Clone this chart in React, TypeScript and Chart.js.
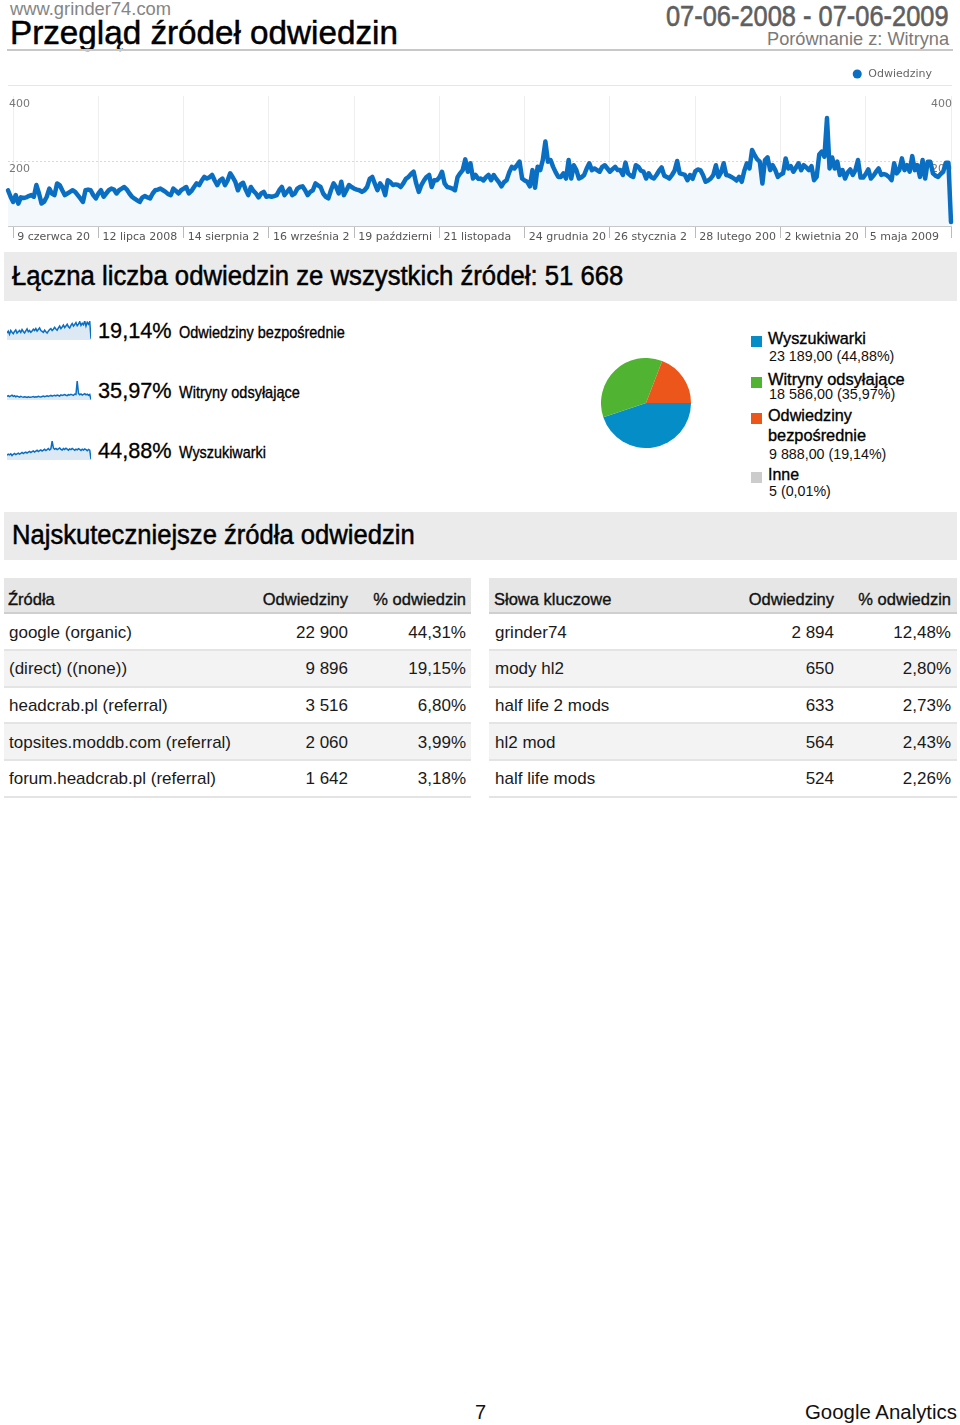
import React, { useEffect, useLayoutEffect, useRef, useState } from 'react';
import { Chart, registerables } from 'chart.js';

Chart.register(...registerables);

// ---------------- DATA ----------------
const VISITS = [
  110, 90, 74, 95, 69, 88, 86, 88, 92, 95,
  90, 126, 100, 69, 75, 90, 115, 100, 95, 131,
  126, 110, 95, 100, 105, 110, 105, 95, 85, 74,
  110, 112, 110, 95, 85, 100, 110, 90, 100, 110,
  115, 112, 100, 110, 115, 120, 112, 100, 90, 84,
  79, 74, 88, 92, 88, 85, 100, 110, 112, 115,
  110, 105, 98, 95, 115, 108, 100, 110, 115, 120,
  100, 108, 120, 131, 126, 140, 151, 146, 150, 157,
  140, 126, 140, 146, 126, 140, 162, 150, 136, 110,
  128, 133, 112, 95, 120, 108, 100, 88, 100, 105,
  90, 92, 90, 92, 95, 110, 120, 95, 105, 115,
  95, 100, 115, 120, 122, 110, 95, 105, 110, 131,
  125, 120, 100, 90, 85, 110, 131, 120, 100, 136,
  95, 110, 126, 120, 115, 112, 110, 105, 110, 120,
  145, 151, 130, 110, 131, 120, 95, 141, 135, 126,
  128, 126, 120, 131, 145, 151, 160, 167, 131, 105,
  126, 140, 151, 157, 120, 141, 141, 150, 167, 131,
  120, 118, 115, 110, 150, 162, 172, 205, 167, 193,
  146, 157, 145, 146, 140, 150, 157, 141, 157, 145,
  135, 122, 135, 141, 165, 182, 177, 187, 198, 146,
  140, 136, 122, 172, 118, 182, 172, 203, 260, 198,
  203, 182, 165, 151, 151, 162, 146, 203, 146, 187,
  172, 146, 150, 157, 177, 193, 172, 177, 172, 167,
  182, 187, 177, 167, 175, 182, 172, 172, 157, 195,
  162, 155, 151, 187, 182, 170, 167, 146, 162, 150,
  146, 157, 170, 180, 155, 151, 146, 157, 170, 200,
  162, 160, 157, 141, 157, 145, 168, 174, 172, 157,
  136, 140, 146, 157, 187, 151, 165, 193, 157, 155,
  151, 146, 140, 151, 136, 170, 193, 177, 234, 218,
  205, 198, 131, 203, 211, 172, 187, 172, 151, 158,
  162, 208, 177, 184, 167, 180, 193, 172, 187, 180,
  172, 184, 141, 151, 220, 229, 213, 332, 177, 211,
  177, 198, 157, 172, 146, 165, 174, 157, 172, 203,
  149, 149, 160, 174, 146, 155, 167, 177, 157, 160,
  157, 151, 141, 193, 162, 172, 208, 172, 187, 167,
  215, 172, 187, 151, 203, 146, 198, 198, 162, 155,
  151, 160, 167, 195, 195, 12,
];
const TICK_DAYS = [2, 35, 68, 101, 134, 167, 200, 233, 266, 299, 332, 365];
const TICK_LABELS = [
  '9 czerwca 20', '12 lipca 2008', '14 sierpnia 2', '16 września 2', '19 październi',
  '21 listopada', '24 grudnia 20', '26 stycznia 2', '28 lutego 200', '2 kwietnia 20',
  '5 maja 2009', '',
];
const Y_MAX = 400;
const Y_STEP = 200;
const SERIES_NAME = 'Odwiedziny';

const SPARK_DIRECT = [22, 28, 18, 30, 24, 20, 27, 32, 22, 26, 30, 24, 33, 27, 22, 29, 35, 26, 30, 24, 28, 34, 30, 36, 28, 33, 38, 30, 27, 24, 31, 26, 22, 28, 33, 36, 30, 34, 40, 35, 31, 38, 44, 36, 41, 47, 39, 44, 50, 42, 38, 46, 52, 44, 49, 55, 45, 50, 58, 46, 53, 48, 60, 44, 56, 50, 58, 4];
const SPARK_REFERRAL = [40, 46, 36, 44, 50, 38, 45, 34, 41, 36, 30, 38, 33, 29, 35, 31, 27, 34, 30, 28, 33, 36, 30, 35, 32, 38, 34, 31, 37, 42, 36, 40, 45, 38, 43, 48, 40, 46, 50, 44, 52, 47, 42, 55, 49, 53, 58, 50, 46, 56, 52, 60, 54, 48, 62, 58, 200, 70, 55, 64, 52, 60, 66, 54, 62, 50, 58, 5];
const SPARK_SEARCH = [28, 34, 30, 36, 26, 33, 38, 31, 36, 40, 34, 38, 44, 37, 42, 46, 40, 45, 50, 43, 48, 53, 46, 51, 56, 49, 54, 58, 52, 57, 62, 55, 60, 66, 58, 64, 110, 70, 62, 67, 60, 65, 70, 62, 58, 66, 61, 68, 63, 57, 64, 60, 67, 62, 56, 63, 59, 66, 61, 55, 62, 58, 64, 60, 54, 61, 57, 5];

const SHARE_TEXT = ['19,14%', '35,97%', '44,88%'];
const SHARE_NAMES = ['Odwiedziny bezpośrednie', 'Witryny odsyłające', 'Wyszukiwarki'];

const PIE_LABELS = ['Wyszukiwarki', 'Witryny odsyłające', 'Odwiedziny bezpośrednie', 'Inne'];
const PIE_VALUES = [23189, 18586, 9888, 5];
const PIE_VALUE_TEXT = ['23 189,00', '18 586,00', '9 888,00', '5'];
const PIE_PCT_TEXT = ['44,88%', '35,97%', '19,14%', '0,01%'];
const PIE_COLORS = ['#058dc7', '#50b432', '#ed561b', '#cccccc'];

const SOURCE_HEADERS = ['Źródła', 'Odwiedziny', '% odwiedzin'];
const SOURCES = ['google (organic)', '(direct) ((none))', 'headcrab.pl (referral)', 'topsites.moddb.com (referral)', 'forum.headcrab.pl (referral)'];
const SOURCE_VISITS = ['22 900', '9 896', '3 516', '2 060', '1 642'];
const SOURCE_PCT = ['44,31%', '19,15%', '6,80%', '3,99%', '3,18%'];
const KEYWORD_HEADERS = ['Słowa kluczowe', 'Odwiedziny', '% odwiedzin'];
const KEYWORDS = ['grinder74', 'mody hl2', 'half life 2 mods', 'hl2 mod', 'half life mods'];
const KEYWORD_VISITS = ['2 894', '650', '633', '564', '524'];
const KEYWORD_PCT = ['12,48%', '2,80%', '2,73%', '2,43%', '2,26%'];

// ---------------- STYLE ----------------
const SANS = '"Liberation Sans", Arial, Helvetica, sans-serif';
const LINE_COLOR = '#0a6fc2';
const FILL_COLOR = '#f3f8fc';
const SPARK_FILL = '#dce9f5';
const BAND_BG = '#ebebeb';

type TxtProps = {
  x: number; y: number; size: number; w?: number; align?: 'left' | 'right';
  color?: string; stroke?: number; children: string; family?: string;
};

// y is the text baseline; line box is kept tight (0.8em) so boxes do not overlap
function Txt({ x, y, size, w, align = 'left', color = '#000', stroke = 0, children, family = SANS }: TxtProps) {
  const ref = useRef<HTMLDivElement>(null);
  const [k, setK] = useState(1);
  useLayoutEffect(() => {
    if (!w || !ref.current) return;
    const nat = ref.current.offsetWidth;
    if (nat > 0) setK(w / nat);
  }, [w, children, size]);
  const lh = 0.8 * size;
  const style: React.CSSProperties = {
    position: 'absolute',
    top: y - (lh / 2 + 0.3465 * size),
    height: lh,
    whiteSpace: 'nowrap',
    fontFamily: family,
    fontSize: size,
    lineHeight: `${lh}px`,
    color,
    transform: `scaleX(${k})`,
    transformOrigin: align === 'right' ? 'right top' : 'left top',
  };
  if (stroke) (style as any).WebkitTextStroke = `${stroke}px ${color}`;
  if (align === 'right') style.right = 960 - x; else style.left = x;
  return <div ref={ref} style={style}>{children}</div>;
}

function ChartCanvas({ left, top, width, height, build }: { left: number; top: number; width: number; height: number; build: () => any }) {
  const ref = useRef<HTMLCanvasElement>(null);
  useEffect(() => {
    const chart = new Chart(ref.current as HTMLCanvasElement, build());
    return () => chart.destroy();
  }, []);
  return <canvas ref={ref} width={width} height={height} style={{ position: 'absolute', left, top, width, height }} />;
}

const separatorPlugin = {
  id: 'topSeparator',
  afterDraw(chart: any) {
    const { ctx, chartArea } = chart;
    const y = Math.round(chartArea.top - 11) + 0.5;
    ctx.save();
    ctx.strokeStyle = '#e6e6e6';
    ctx.lineWidth = 1;
    ctx.beginPath();
    ctx.moveTo(8, y);
    ctx.lineTo(952, y);
    ctx.stroke();
    ctx.restore();
  },
};

const AXIS_FONT = { family: '"DejaVu Sans", sans-serif', size: 11 };

function buildMain() {
  const yCommon = {
    min: 0,
    max: Y_MAX,
    afterFit: (s: any) => { s.width = 0; },
    ticks: {
      stepSize: Y_STEP,
      mirror: true,
      padding: 1,
      labelOffset: 8,
      color: '#777',
      font: AXIS_FONT,
      callback: (v: number) => (v === 0 ? '' : String(v)),
    },
  };
  return {
    type: 'line',
    data: {
      datasets: [{
        label: SERIES_NAME,
        data: VISITS.map((v, i) => ({ x: i, y: v })),
        borderColor: LINE_COLOR,
        backgroundColor: FILL_COLOR,
        fill: 'origin',
        borderWidth: 4.5,
        pointRadius: 0,
        tension: 0,
        borderJoinStyle: 'round',
        borderCapStyle: 'round',
        clip: 4,
      }],
    },
    options: {
      responsive: false,
      animation: false,
      devicePixelRatio: 1,
      events: [],
      layout: { padding: { left: 8, right: 9, top: 2.5, bottom: 0 } },
      plugins: {
        legend: {
          position: 'top',
          align: 'end',
          weight: 3000,
          labels: {
            usePointStyle: true,
            boxWidth: 11,
            boxHeight: 6.4,
            padding: 19,
            color: '#666',
            font: AXIS_FONT,
            generateLabels: () => [{
              text: SERIES_NAME, fillStyle: LINE_COLOR, strokeStyle: LINE_COLOR, lineWidth: 0,
              pointStyle: 'circle', hidden: false, datasetIndex: 0, fontColor: '#666',
            }],
          },
        },
        // empty spacer between the legend and the plot area
        title: {
          display: true,
          text: ' ',
          position: 'top',
          weight: 2000,
          color: 'rgba(0,0,0,0)',
          font: { size: 1, lineHeight: 1.2 },
          padding: { top: 0, bottom: 5.3 },
        },
        tooltip: { enabled: false },
      },
      scales: {
        x: {
          type: 'linear',
          min: 0,
          max: VISITS.length - 1,
          afterBuildTicks: (s: any) => { s.ticks = TICK_DAYS.map((v) => ({ value: v })); },
          afterFit: (s: any) => { s.height = 20; },
          grid: { color: '#eeeeee', tickColor: '#bbbbbb', tickLength: 12, drawTicks: true },
          border: { color: '#c8c8c8' },
          ticks: {
            autoSkip: false,
            maxRotation: 0,
            align: 'start',
            padding: -7,
            labelOffset: 4,
            color: '#555',
            font: AXIS_FONT,
            callback: (_v: number, i: number) => TICK_LABELS[i] ?? '',
          },
        },
        y: {
          ...yCommon,
          position: 'left',
          grid: {
            drawTicks: false,
            color: (c: any) => (c.tick && c.tick.value === Y_STEP ? '#d9d9d9' : 'rgba(0,0,0,0)'),
          },
          border: { display: false, dash: [2, 2] },
        },
        y2: {
          ...yCommon,
          position: 'right',
          grid: { display: false, drawTicks: false },
          border: { display: false },
        },
      },
    },
    plugins: [separatorPlugin],
  };
}

function buildSpark(values: number[]) {
  return () => ({
    type: 'line',
    data: {
      labels: values.map((_, i) => i),
      datasets: [{
        data: values,
        borderColor: LINE_COLOR,
        borderWidth: 1.5,
        backgroundColor: SPARK_FILL,
        fill: 'origin',
        pointRadius: 0,
        tension: 0,
        clip: 3,
      }],
    },
    options: {
      responsive: false,
      animation: false,
      devicePixelRatio: 1,
      events: [],
      layout: { padding: 0 },
      plugins: { legend: { display: false }, tooltip: { enabled: false } },
      scales: {
        x: { display: false },
        y: { display: false, min: 0, max: Math.max(...values) },
      },
    },
  });
}

function buildPie() {
  return {
    type: 'pie',
    data: {
      labels: PIE_LABELS,
      datasets: [{
        data: PIE_VALUES,
        backgroundColor: PIE_COLORS,
        borderWidth: 0,
        hoverOffset: 0,
        offset: 0,
      }],
    },
    options: {
      responsive: false,
      animation: false,
      devicePixelRatio: 1,
      events: [],
      rotation: 90,
      layout: { padding: 0 },
      plugins: { legend: { display: false }, tooltip: { enabled: false } },
    },
  };
}

const SPARKS = [SPARK_DIRECT, SPARK_REFERRAL, SPARK_SEARCH];
const SPARK_TOPS = [321, 381, 441];
const SHARE_BASELINES = [338.5, 398.5, 458.5];
const SHARE_NAME_WIDTHS = [166, 121, 87];

const PIE_SQ_TOPS = [336, 377, 413, 472];
const PIE_LINE_BASELINES = [[345], [386], [422, 442]];
const PIE_LINE_WIDTHS = [[98], [137], [84, 98]];
const PIE_LAST_BASELINE = [481];
const PIE_LAST_WIDTH = [31];
const PIE_VAL_BASELINES = [361.7, 400, 460, 496.5];
const PIE_VAL_WIDTHS = [125, 126, 117, 62];

function DataTable({ x0, x1, firstX, colRights, headers, c1, c2, c3 }: {
  x0: number; x1: number; firstX: number; colRights: number[]; headers: string[];
  c1: string[]; c2: string[]; c3: string[];
}) {
  const rowTop = (i: number) => 613 + i * 36.65;
  return (
    <>
      <div style={{ position: 'absolute', left: x0, width: x1 - x0, top: 578, height: 35, background: '#e6e6e6' }} />
      <div style={{ position: 'absolute', left: x0, width: x1 - x0, top: 612, height: 2, background: '#cfcfcf' }} />
      {c1.map((_, i) => (
        <div key={'bg' + i} style={{
          position: 'absolute', left: x0, width: x1 - x0, top: rowTop(i) + 1, height: 35.65,
          background: i % 2 === 1 ? '#f3f3f3' : '#ffffff',
        }} />
      ))}
      {c1.map((_, i) => (
        <div key={'ln' + i} style={{ position: 'absolute', left: x0, width: x1 - x0, top: rowTop(i + 1) - 0.5, height: 2, background: '#e4e4e4' }} />
      ))}
      <Txt x={firstX} y={605} size={16.5} stroke={0.35} color="#111">{headers[0]}</Txt>
      <Txt x={colRights[0]} y={605} size={16.5} stroke={0.35} color="#111" align="right">{headers[1]}</Txt>
      <Txt x={colRights[1]} y={605} size={16.5} stroke={0.35} color="#111" align="right">{headers[2]}</Txt>
      {c1.map((t, i) => (
        <React.Fragment key={'r' + i}>
          <Txt x={firstX + 1} y={638.5 + i * 36.65} size={17} color="#1a1a1a">{t}</Txt>
          <Txt x={colRights[0]} y={638.5 + i * 36.65} size={17} color="#1a1a1a" align="right">{c2[i]}</Txt>
          <Txt x={colRights[1]} y={638.5 + i * 36.65} size={17} color="#1a1a1a" align="right">{c3[i]}</Txt>
        </React.Fragment>
      ))}
    </>
  );
}

export default function App() {
  return (
    <div style={{ position: 'absolute', left: 0, top: 0, width: 960, height: 1425, background: '#fff', fontFamily: SANS }}>
      {/* Header */}
      <Txt x={10} y={15} size={18} w={161} color="#858585">www.grinder74.com</Txt>
      <Txt x={10} y={44.5} size={34} w={388} stroke={0.5} color="#000">Przegląd źródeł odwiedzin</Txt>
      <Txt x={949} y={26} size={30} w={283} stroke={0.6} color="#5f5f5f" align="right">07-06-2008 - 07-06-2009</Txt>
      <Txt x={949} y={45.5} size={19} w={182} color="#7a7a7a" align="right">Porównanie z: Witryna</Txt>
      <div style={{ position: 'absolute', left: 7, width: 946, top: 49, height: 2, background: '#c8c8c8' }} />

      {/* Main chart */}
      <ChartCanvas left={0} top={47} width={960} height={199} build={buildMain} />

      {/* Band 1 */}
      <div style={{ position: 'absolute', left: 4, width: 953, top: 252, height: 49, background: BAND_BG }} />
      <Txt x={12} y={286} size={27} w={611} stroke={0.5}>Łączna liczba odwiedzin ze wszystkich źródeł: 51 668</Txt>

      {/* Sparklines */}
      {SPARKS.map((s, i) => (
        <ChartCanvas key={'sp' + i} left={7} top={SPARK_TOPS[i]} width={84} height={19} build={buildSpark(s)} />
      ))}
      {SHARE_TEXT.map((t, i) => (
        <React.Fragment key={'sh' + i}>
          <Txt x={97.5} y={SHARE_BASELINES[i]} size={22} w={74} stroke={0.3}>{t}</Txt>
          <Txt x={179} y={SHARE_BASELINES[i]} size={17} w={SHARE_NAME_WIDTHS[i]} stroke={0.35}>{SHARE_NAMES[i]}</Txt>
        </React.Fragment>
      ))}

      {/* Pie */}
      <ChartCanvas left={601} top={358} width={90} height={90} build={buildPie} />
      {PIE_LABELS.map((label, i) => {
        const words = label.split(' ');
        const lineBases = i < 3 ? PIE_LINE_BASELINES[i] : PIE_LAST_BASELINE;
        const lineWidths = i < 3 ? PIE_LINE_WIDTHS[i] : PIE_LAST_WIDTH;
        const lines = lineBases.length === 1 ? [label] : words;
        return (
          <React.Fragment key={'pl' + i}>
            <div style={{ position: 'absolute', left: 751, top: PIE_SQ_TOPS[i], width: 11, height: 11, background: PIE_COLORS[i] }} />
            {lines.map((ln, j) => (
              <Txt key={j} x={768} y={lineBases[j]} size={17} w={lineWidths[j]} stroke={0.35}>{ln}</Txt>
            ))}
            <Txt x={769} y={PIE_VAL_BASELINES[i]} size={14.5} w={PIE_VAL_WIDTHS[i]} color="#111">{`${PIE_VALUE_TEXT[i]} (${PIE_PCT_TEXT[i]})`}</Txt>
          </React.Fragment>
        );
      })}

      {/* Band 2 */}
      <div style={{ position: 'absolute', left: 4, width: 953, top: 512, height: 48, background: BAND_BG }} />
      <Txt x={12} y={545} size={27} w={403} stroke={0.5}>Najskuteczniejsze źródła odwiedzin</Txt>

      {/* Tables */}
      <DataTable x0={4} x1={471} firstX={8} colRights={[348, 466]} headers={SOURCE_HEADERS} c1={SOURCES} c2={SOURCE_VISITS} c3={SOURCE_PCT} />
      <DataTable x0={489} x1={957} firstX={494} colRights={[834, 951]} headers={KEYWORD_HEADERS} c1={KEYWORDS} c2={KEYWORD_VISITS} c3={KEYWORD_PCT} />

      {/* Footer */}
      <Txt x={475} y={1419} size={20} color="#111">7</Txt>
      <Txt x={957} y={1419} size={20} w={152} color="#111" align="right">Google Analytics</Txt>
    </div>
  );
}
